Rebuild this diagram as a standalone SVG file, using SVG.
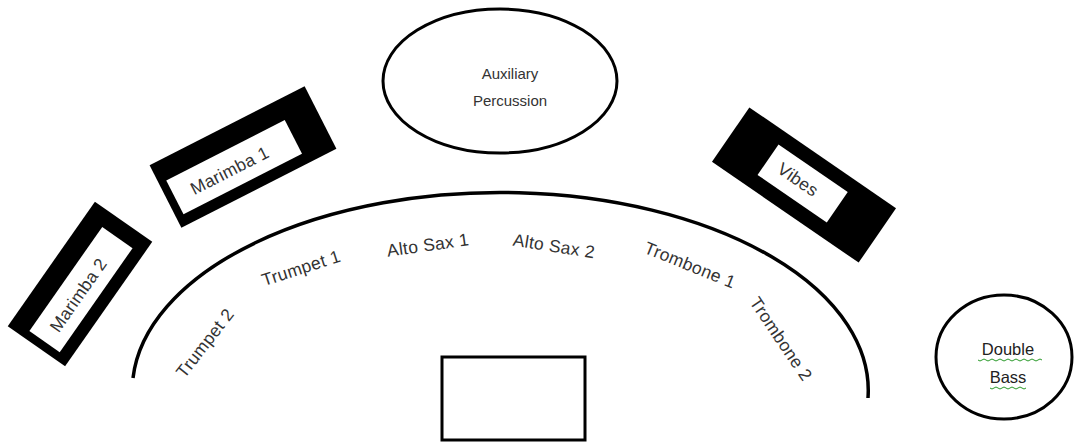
<svg xmlns="http://www.w3.org/2000/svg" width="1075" height="442" viewBox="0 0 1075 442">
<style>
.lbl{font-family:"Liberation Sans",Arial,sans-serif;font-size:17.5px;fill:#333;text-anchor:middle;dominant-baseline:central;letter-spacing:0.3px}
.blk{fill:#000}
.wht{fill:#fff}
.ln{fill:none;stroke:#000;stroke-width:3.5}
.sq{fill:none;stroke:#2a9a2a;stroke-width:1}
</style>
<rect width="1075" height="442" fill="#fff"/>
<g id="connectors"></g>
<g id="arc"><path class="ln" d="M133,378 A368,198 0 0 1 868,398"/></g>
<g id="aux"><ellipse class="ln" cx="500" cy="81" rx="117" ry="72" style="stroke-width:3"/>
<text class="lbl" x="510" y="73" style="font-size:15px;letter-spacing:0">Auxiliary</text>
<text class="lbl" x="510" y="100" style="font-size:15px;letter-spacing:0">Percussion</text></g>
<g id="marimba1" transform="translate(243,157) rotate(-27)"><rect class="blk" x="-87" y="-35" width="174" height="70"/><rect class="wht" x="-79" y="-14" width="133" height="38"/><text class="lbl" x="-18" y="6">Marimba 1</text></g>
<g id="marimba2" transform="translate(80,284) rotate(-55)"><rect class="blk" x="-76" y="-35" width="152" height="70"/><rect class="wht" x="-67.5" y="-14.5" width="127" height="37"/><text class="lbl" x="-10" y="5">Marimba 2</text></g>
<g id="vibes" transform="translate(804,185) rotate(34.5)"><rect class="blk" x="-89" y="-33" width="178" height="66"/><rect class="wht" x="-44" y="-19" width="84" height="37"/><text class="lbl" x="-8" y="-1">Vibes</text></g>
<g id="trumpet2"><text class="lbl" transform="translate(205,343) rotate(-52)">Trumpet 2</text></g>
<g id="trumpet1"><text class="lbl" transform="translate(301,268) rotate(-18)">Trumpet 1</text></g>
<g id="altosax1"><text class="lbl" transform="translate(428,245) rotate(-8)">Alto Sax 1</text></g>
<g id="altosax2"><text class="lbl" transform="translate(554,246) rotate(9)">Alto Sax 2</text></g>
<g id="trombone1"><text class="lbl" transform="translate(690,265) rotate(22)">Trombone 1</text></g>
<g id="trombone2"><text class="lbl" transform="translate(781,339) rotate(56)">Trombone 2</text></g>
<g id="podium"><rect class="ln" x="442" y="357" width="143" height="83" style="stroke-width:3"/></g>
<g id="doublebass"><ellipse class="ln" cx="1004" cy="357" rx="68" ry="62" style="stroke-width:3"/>
<text class="lbl" x="1008" y="349" style="font-size:16.5px;letter-spacing:0;fill:#222">Double</text>
<text class="lbl" x="1008" y="377" style="font-size:16.5px;letter-spacing:0;fill:#222">Bass</text>
<path class="sq" d="M978,360 q2,2 4,0 t4,0 t4,0 t4,0 t4,0 t4,0 t4,0 t4,0 t4,0 t4,0 t4,0 t4,0 t4,0 t4,0 t4,0 t4,0"/>
<path class="sq" d="M990,388 q2,2 4,0 t4,0 t4,0 t4,0 t4,0 t4,0 t4,0 t4,0 t4,0"/></g>
</svg>
